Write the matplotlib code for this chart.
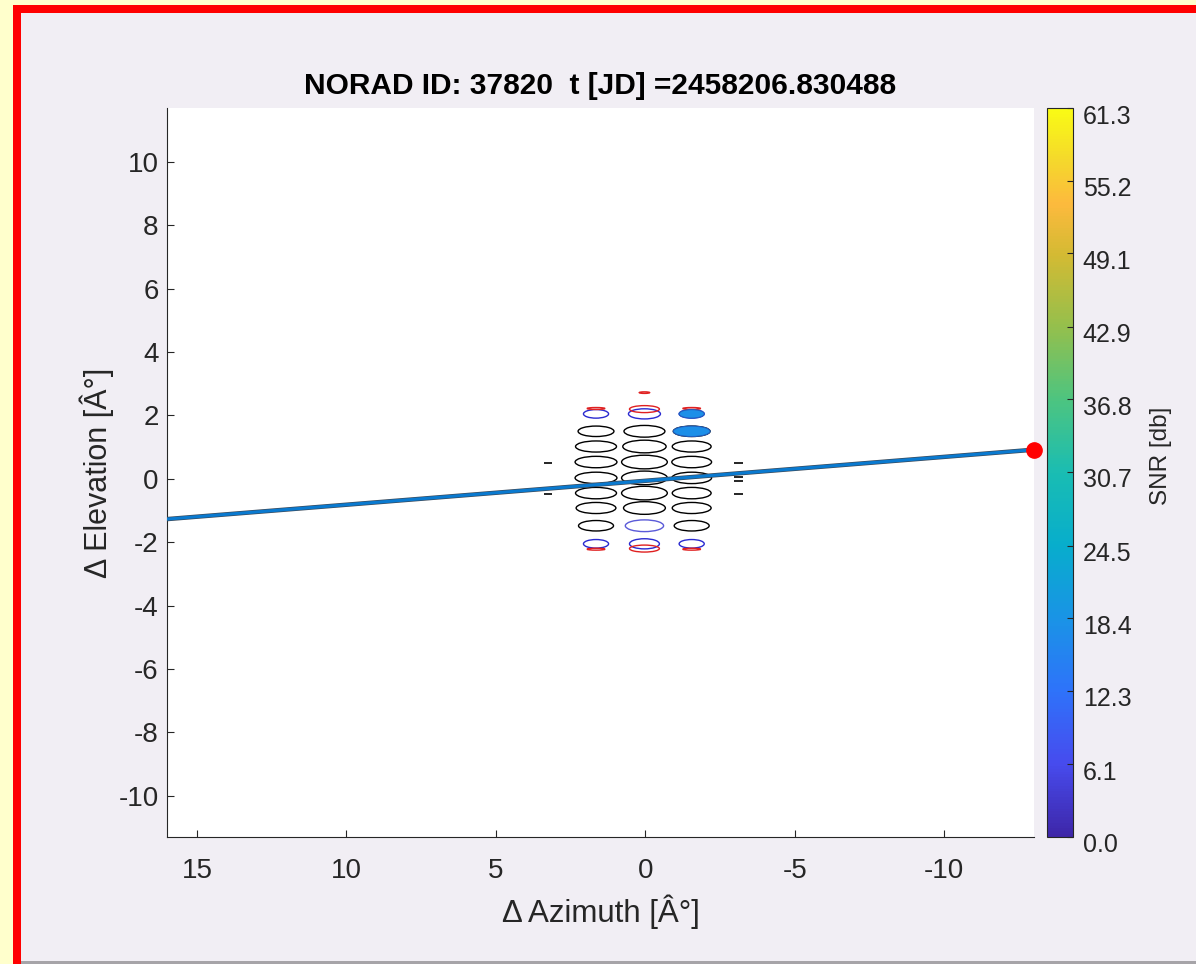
import matplotlib
matplotlib.use("Agg")
import matplotlib.pyplot as plt
import matplotlib.transforms as mtransforms
from matplotlib.patches import Ellipse, Rectangle
from matplotlib.colors import LinearSegmentedColormap, Normalize
from matplotlib.cm import ScalarMappable

plt.rcParams['font.family'] = ['Liberation Sans', 'DejaVu Sans']

# ---- data ----
title = "NORAD ID: 37820  t [JD] =2458206.830488"

# satellite track (az, el in deg)
track_az = [16.0, -13.0]
track_el = [-1.27, 0.92]
sat_az = [-13.0]
sat_el = [0.92]

# beam grid: 3 columns x 9 rows of contour ellipses
col_az = [1.65, 0.03, -1.55]
row_el = [2.05, 1.50, 1.02, 0.53, 0.03, -0.45, -0.92, -1.48, -2.05]
beam_w = [[0.84, 1.20, 1.37, 1.40, 1.40, 1.37, 1.33, 1.17, 0.84],
          [1.07, 1.37, 1.45, 1.53, 1.53, 1.53, 1.40, 1.28, 1.00],
          [0.84, 1.23, 1.30, 1.33, 1.33, 1.30, 1.30, 1.17, 0.84]]
beam_h = [[0.27, 0.33, 0.35, 0.36, 0.36, 0.36, 0.35, 0.33, 0.27],
          [0.32, 0.37, 0.40, 0.43, 0.43, 0.43, 0.40, 0.37, 0.32],
          [0.27, 0.33, 0.35, 0.36, 0.36, 0.36, 0.35, 0.33, 0.27]]
beam_edge = [['#2a2ad0', 'k', 'k', 'k', 'k', 'k', 'k', 'k', '#2a2ad0'],
             ['#2a2ad0', 'k', 'k', 'k', 'k', 'k', 'k', '#5a5ad8', '#2a2ad0'],
             ['#2a2ad0', 'k', 'k', 'k', 'k', 'k', 'k', 'k', '#2a2ad0']]
# filled beams (column, row, snr)
fill_col = [2, 2]
fill_row = [0, 1]
fill_snr = [17.5, 17.5]

# outer red contours
red_az = [1.65, 0.03, -1.55, 1.65, 0.03, -1.55, 0.03]
red_el = [2.22, 2.20, 2.22, -2.22, -2.20, -2.22, 2.72]
red_w = [0.60, 1.00, 0.60, 0.60, 1.00, 0.60, 0.35]
red_h = [0.06, 0.22, 0.06, 0.06, 0.22, 0.06, 0.05]

# small side dashes
dash_el = [0.50, -0.47, 0.50, 0.06, -0.06, -0.47]
dash_az0 = [3.40, 3.40, -2.98, -2.98, -2.98, -2.98]
dash_az1 = [3.12, 3.12, -3.26, -3.26, -3.26, -3.26]

snr_max = 61.3
cbar_ticks = [0.0, 6.1, 12.3, 18.4, 24.5, 30.7, 36.8, 42.9, 49.1, 55.2, 61.3]

x_ticks = [15, 10, 5, 0, -5, -10]
y_ticks = [10, 8, 6, 4, 2, 0, -2, -4, -6, -8, -10]

# approximate parula
parula = LinearSegmentedColormap.from_list("parula", [
    (0.00, (0.2422, 0.1504, 0.6603)),
    (0.10, (0.2780, 0.2960, 0.9340)),
    (0.20, (0.1800, 0.4500, 0.9800)),
    (0.30, (0.1000, 0.5800, 0.9000)),
    (0.40, (0.0300, 0.6800, 0.8000)),
    (0.50, (0.1000, 0.7400, 0.7000)),
    (0.60, (0.3000, 0.7700, 0.5000)),
    (0.70, (0.5800, 0.7500, 0.3000)),
    (0.80, (0.8300, 0.7300, 0.2000)),
    (0.87, (0.9900, 0.7300, 0.2400)),
    (0.93, (0.9600, 0.8500, 0.1700)),
    (1.00, (0.9769, 0.9839, 0.0805)),
])
norm = Normalize(0, snr_max)

W, H = 1196, 964
fig = plt.figure(figsize=(W / 100, H / 100), dpi=100, facecolor='#f1eef4')

# frame around the screenshot
def px_rect(x0, y0, x1, y1, color):
    fig.add_artist(Rectangle((x0 / W, 1 - y1 / H), (x1 - x0) / W, (y1 - y0) / H,
                             transform=fig.transFigure, color=color, lw=0, zorder=-5))

px_rect(0, 0, W, 5, '#ffffcc')
px_rect(0, 0, 13, H, '#ffffcc')
px_rect(13, 5, W, 13, '#ff0000')
px_rect(13, 5, 21, H, '#ff0000')
px_rect(21, H - 3, W, H, '#a6a4a8')

ax = fig.add_axes([167 / W, 1 - 837 / H, (1034 - 167) / W, (837 - 108) / H])
cax = fig.add_axes([1047 / W, 1 - 837 / H, 26 / W, (837 - 108) / H])

gray = '#262626'

for ci, az in enumerate(col_az):
    for ri, el in enumerate(row_el):
        ax.add_patch(Ellipse((az, el), beam_w[ci][ri], beam_h[ci][ri],
                             fill=False, ec=beam_edge[ci][ri], lw=1.0, zorder=2))
for ci, ri, s in zip(fill_col, fill_row, fill_snr):
    ax.add_patch(Ellipse((col_az[ci], row_el[ri]), beam_w[ci][ri], beam_h[ci][ri],
                         fc=parula(norm(s)), ec='#2060c0', lw=0.8, zorder=3))
for az, el, w, h in zip(red_az, red_el, red_w, red_h):
    ax.add_patch(Ellipse((az, el), w, h, fill=False, ec='#e02020', lw=1.0, zorder=2))
ax.hlines(dash_el, dash_az0, dash_az1, colors='k', lw=1.2, zorder=2)

ax.plot(track_az, track_el, color='#3a4a5a', lw=3.2, zorder=4, solid_capstyle='butt')
ax.plot(track_az, track_el, color='#0a7ad0', lw=2.2, zorder=5, solid_capstyle='butt')
ax.plot(sat_az, sat_el, 'o', color='#ff0000', ms=11, mec='#ff0000', zorder=6, clip_on=False)

ax.set_xlim(16, -13)
ax.set_ylim(-11.3, 11.7)
ax.set_xticks(x_ticks)
ax.set_yticks(y_ticks)
ax.set_xticklabels([str(t) for t in x_ticks])
ax.set_yticklabels([str(t) for t in y_ticks])
for s in ['top', 'right']:
    ax.spines[s].set_visible(False)
for s in ['left', 'bottom']:
    ax.spines[s].set_color(gray)
    ax.spines[s].set_linewidth(0.8)
ax.tick_params(direction='in', length=5, width=0.8, color=gray, labelcolor=gray,
               labelsize=20)
ax.tick_params(axis='x', pad=15)
ax.tick_params(axis='y', pad=6)
ax.set_xlabel("Δ Azimuth [Â°]", fontsize=22.5, color=gray, labelpad=8)
ax.set_ylabel("Δ Elevation [Â°]", fontsize=22, color=gray, labelpad=3)
ax.set_title(title, fontsize=21.5, fontweight='bold', color='k', pad=10)

sm = ScalarMappable(norm=norm, cmap=parula)
cb = fig.colorbar(sm, cax=cax)
cb.set_ticks(cbar_ticks)
cb.set_ticklabels([f"{t:.1f}" for t in cbar_ticks])
cb.outline.set_edgecolor(gray)
cb.outline.set_linewidth(0.8)
cax.tick_params(direction='in', length=4, width=0.8, color=gray, labelcolor=gray,
                labelsize=18, pad=7)
shift = mtransforms.ScaledTranslation(0, -6 / 100, fig.dpi_scale_trans)
for lab in cax.get_yticklabels():
    lab.set_transform(lab.get_transform() + shift)
cb.set_label("SNR [db]", fontsize=17.5, color=gray)
cax.yaxis.set_label_coords(3.95, 0.523)

fig.savefig("out.png", dpi=100, facecolor=fig.get_facecolor())
